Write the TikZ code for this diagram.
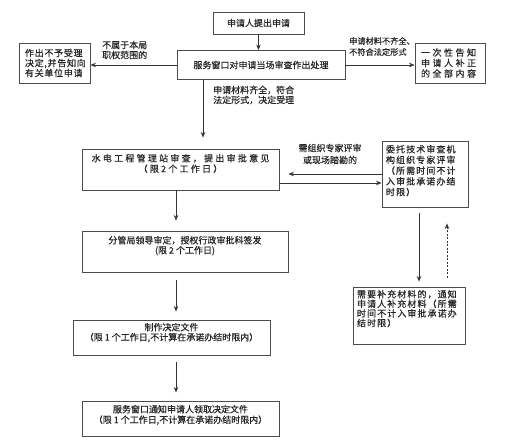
\documentclass[tikz,border=0pt]{standalone}
\usepackage{fontspec}
\setmainfont{Noto Sans CJK SC}[FakeBold=0.6]
\newfontfamily\lsA{Noto Sans CJK SC}[LetterSpace=8,FakeBold=0.6]
\newfontfamily\lsB{Noto Sans CJK SC}[LetterSpace=12,FakeBold=0.6]
\newfontfamily\lsC{Noto Sans CJK SC}[LetterSpace=25,FakeBold=0.6]
\newfontfamily\lsD{Noto Sans CJK SC}[LetterSpace=28,FakeBold=0.6]
\usetikzlibrary{arrows.meta}
\tikzset{
  box/.style={draw=black!70, line width=0.9pt, inner sep=0pt, text=black!85},
  arr/.style={draw=black!80, line width=0.9pt, -{Stealth[length=5.5pt,width=4.5pt]}},
  lab/.style={align=left, inner sep=0pt, text=black!85},
}
\begin{document}
\begin{tikzpicture}[x=1pt,y=-1pt]
\useasboundingbox (0,0) rectangle (506,441);
% boxes
\node[box, minimum width=91, minimum height=22, font=\fontsize{9}{10.5}\selectfont] (b1) at (258.5,23) {申请人提出申请};
\node[box, minimum width=168, minimum height=29, font=\fontsize{9}{10.5}\selectfont] (b2) at (261,65) {服务窗口对申请当场审查作出处理};
\node[box, minimum width=71, minimum height=40, text width=59, inner xsep=6, align=left, font=\lsA\fontsize{9}{10}\selectfont] (b3) at (54.5,63) {作出不予受理\\决定,并告知向\\有关单位申请};
\node[box, minimum width=70, minimum height=40, text width=58, inner xsep=6, align=left, font=\lsD\fontsize{9}{10.5}\selectfont] (b4) at (450,63) {一次性告知\\申请人补正\\的全部内容};
\node[box, font=\fontsize{9}{10.5}\selectfont] (b5) at (180.5,169.5) {\parbox[c][41pt][t]{197pt}{\centering\vspace{5pt}{\lsC 水电工程管理站审查，提出审批意见}\\{\lsC（限2个工作日）}}};
\node[box, font=\lsB\fontsize{9}{10.7}\selectfont] (b6) at (425,174) {\parbox[c][66pt][t]{86pt}{\raggedright\vspace{4pt}\hspace*{4pt}委托技术审查机\\\hspace*{4pt}构组织专家评审\\\hspace*{4pt}（所需时间不计\\\hspace*{4pt}入审批承诺办结\\\hspace*{4pt}时限）}};
\node[box, font=\fontsize{9}{10}\selectfont] (b7) at (185,251.5) {\parbox[c][41pt][t]{206pt}{\centering\vspace{5pt}分管局领导审定，授权行政审批科签发\\(限 2 个工作日)}};
\node[box, font=\fontsize{9}{10}\selectfont] (b8) at (171.5,337.5) {\parbox[c][35pt][t]{197pt}{\centering\vspace{3pt}制作决定文件\\（限 1 个工作日,不计算在承诺办结时限内）}};
\node[box, font=\fontsize{9}{10.5}\selectfont] (b9) at (180.5,418.5) {\parbox[c][35pt][t]{197pt}{\centering\vspace{4pt}服务窗口通知申请人领取决定文件\\（限 1 个工作日,不计算在承诺办结时限内）}};
\node[box, font=\lsB\fontsize{9}{9.6}\selectfont] (b10) at (409,315.5) {\parbox[c][57pt][t]{112pt}{\raggedright\vspace{3pt}\hspace*{4pt}需要补充材料的，通知\\\hspace*{4pt}申请人补充材料（所需\\\hspace*{4pt}时间不计入审批承诺办\\\hspace*{4pt}结时限）}};
% labels
\node[lab, anchor=west, font=\fontsize{9}{10}\selectfont] (l1) at (102,50) {不属于本局\\职权范围的};
\node[lab, anchor=west, font=\fontsize{8.2}{11}\selectfont] (l2) at (349,46.5) {申请材料不齐全、\\不符合法定形式};
\node[lab, anchor=west, font=\fontsize{9}{10}\selectfont] (l3) at (213,95) {申请材料齐全，符合\\法定形式，决定受理};
\node[lab, align=center, font=\fontsize{9}{12}\selectfont] (l4) at (330,154) {需组织专家评审\\或现场踏勘的};
% connectors
\coordinate (c1) at (203,0);
\coordinate (c2) at (176,0);
\coordinate (c3) at (419,0);
\coordinate (c4) at (447,0);
\coordinate (y1) at (0,174);
\coordinate (y2) at (0,183);
\draw[arr] (b1.south) -- (b1.south |- b2.north);
\draw[arr] (b2.west) -- (b2.west -| b3.east);
\draw[arr] (b2.east) -- (b2.east -| b4.west);
\draw[arr, shorten >=11pt] (b2.south -| c1) -- (b5.north -| c1);
\draw[arr, shorten >=9pt] (b6.west |- y1) -- (b5.east |- y1);
\draw[arr] (b5.east |- y2) -- (b6.west |- y2);
\draw[arr, shorten >=10pt] (b5.south -| c2) -- (b7.north -| c2);
\draw[arr, shorten <=8pt, shorten >=8pt] (b7.south -| c2) -- (b8.north -| c2);
\draw[arr, shorten <=7pt, shorten >=8pt] (b8.south -| c2) -- (b9.north -| c2);
\draw[arr, shorten <=6pt, shorten >=5pt] (b6.south -| c3) -- (b10.north -| c3);
\draw[arr, dash pattern=on 2pt off 1.5pt, shorten <=9pt, shorten >=16pt] (b10.north -| c4) -- (b6.south -| c4);
\end{tikzpicture}
\end{document}
